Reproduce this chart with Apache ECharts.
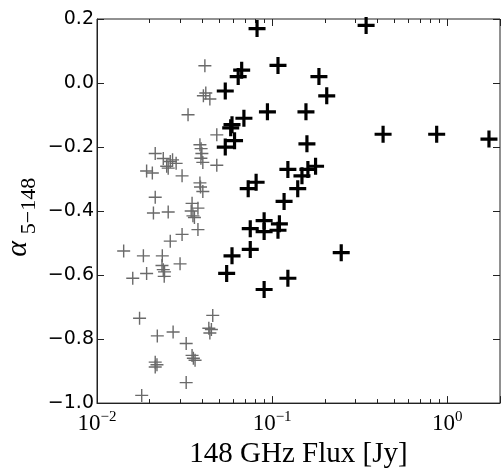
<!DOCTYPE html>
<html>
<head>
<meta charset="utf-8">
<script src="https://cdn.jsdelivr.net/npm/echarts@6/dist/echarts.min.js"></script>
<style>
html,body{margin:0;padding:0;background:#fff;}
#chart{width:503px;height:474px;}
</style>
</head>
<body>
<div id="chart"></div>
<script>
// Black (bold) sources: 148 GHz flux [Jy] and spectral index alpha_5-148
const blackFlux = [0.082, 0.344, 0.067, 0.064, 0.108, 0.185, 0.205, 0.054, 0.094, 0.156,
  0.069, 0.059, 0.058, 0.061, 0.054, 0.158, 0.123, 0.148, 0.160, 0.177,
  0.140, 0.117, 0.081, 0.073, 0.090, 0.110, 0.075, 0.090, 0.108, 0.075,
  0.059, 0.055, 0.123, 0.090, 0.248, 0.43, 0.87, 1.73];
const blackAlpha = [0.17, 0.18, 0.04, 0.02, 0.055, 0.02, -0.04, -0.025, -0.09, -0.09,
  -0.11, -0.13, -0.14, -0.18, -0.20, -0.19, -0.27, -0.29, -0.27, -0.26,
  -0.33, -0.37, -0.31, -0.33, -0.43, -0.44, -0.455, -0.464, -0.46, -0.52,
  -0.54, -0.595, -0.61, -0.645, -0.53, -0.16, -0.16, -0.175];

// Grey (faint) sources
const greyFlux = [0.0413, 0.0418, 0.0441, 0.0331, 0.0483, 0.0387, 0.0397, 0.0402, 0.0215, 0.0239,
  0.0262, 0.0283, 0.0255, 0.0207, 0.0192, 0.0306, 0.0483, 0.0387, 0.0402, 0.0215,
  0.0349, 0.0377, 0.0210, 0.0255, 0.0353, 0.0377, 0.0306, 0.0262, 0.0142, 0.0184,
  0.0236, 0.0239, 0.0298, 0.0192, 0.0242, 0.0160, 0.0175, 0.0458, 0.0435, 0.0441,
  0.0221, 0.0272, 0.0323, 0.0349, 0.0363, 0.0215, 0.0215, 0.0323, 0.0180,
  0.0405, 0.0270, 0.0250, 0.0393, 0.0392, 0.0360, 0.0345, 0.0220, 0.0355, 0.0450,
  0.0243, 0.0235, 0.0390];
const greyAlpha = [0.054, -0.031, -0.05, -0.099, -0.162, -0.193, -0.22, -0.248, -0.22, -0.236,
  -0.245, -0.251, -0.266, -0.281, -0.275, -0.29, -0.257, -0.312, -0.339, -0.357,
  -0.376, -0.391, -0.406, -0.403, -0.415, -0.458, -0.473, -0.494, -0.525, -0.54,
  -0.54, -0.583, -0.565, -0.595, -0.604, -0.61, -0.735, -0.726, -0.766, -0.781,
  -0.79, -0.778, -0.814, -0.851, -0.866, -0.872, -0.887, -0.936, -0.976,
  -0.04, -0.24, -0.26, -0.205, -0.235, -0.42, -0.40, -0.88, -0.86, -0.77,
  -0.59, -0.57, -0.325];

const yTicks = [-1.0, -0.8, -0.6, -0.4, -0.2, 0.0, 0.2];
const xDecades = [0.01, 0.1, 1];

const blackData = blackFlux.map((f, i) => [f, blackAlpha[i]]);
const greyData = greyFlux.map((f, i) => [f, greyAlpha[i]]);

const plusBold = 'path://M6.5,0 H9.5 V6.5 H16 V9.5 H9.5 V16 H6.5 V9.5 H0 V6.5 H6.5 Z';
const plusThin = 'path://M5.8,0 H7.2 V5.8 H13 V7.2 H7.2 V13 H5.8 V7.2 H0 V5.8 H5.8 Z';

function fmtY(v) {
  const s = Math.abs(v).toFixed(1);
  return (v < -1e-9 ? '\u2212' : '') + s;
}
function fmtX(v) {
  for (const d of xDecades) {
    if (Math.abs(v - d) / d < 1e-6) {
      const e = Math.round(Math.log10(d));
      return '{b|10}{s|' + (e < 0 ? '\u2212' + (-e) : e) + '}';
    }
  }
  return '';
}

const chart = echarts.init(document.getElementById('chart'), null, {renderer: 'canvas'});
const tickStyle = {color: '#222', width: 1};
chart.setOption({
  animation: false,
  backgroundColor: '#fff',
  grid: {left: 97, right: 0, top: 19, bottom: 61, show: true, borderColor: '#222', borderWidth: 1},
  xAxis: [{
    type: 'log', logBase: 10, min: 0.01, max: 2,
    position: 'bottom',
    axisLine: {show: true, onZero: false, lineStyle: {color: '#222', width: 1}},
    axisTick: {show: true, inside: true, length: 7, lineStyle: tickStyle},
    minorTick: {show: true, splitNumber: 9, length: 4, lineStyle: tickStyle},
    splitLine: {show: false},
    axisLabel: {
      margin: 6, formatter: fmtX, color: '#000',
      rich: {
        b: {fontFamily: 'Liberation Serif', fontSize: 23, color: '#000', lineHeight: 26, verticalAlign: 'bottom'},
        s: {fontFamily: 'Liberation Serif', fontSize: 15, color: '#000', lineHeight: 26, verticalAlign: 'top'}
      }
    },
    name: '148 GHz Flux [Jy]',
    nameLocation: 'middle', nameGap: 30,
    nameTextStyle: {fontFamily: 'Liberation Serif', fontSize: 29, color: '#000'}
  }, {
    type: 'log', logBase: 10, min: 0.01, max: 2,
    position: 'top',
    axisLine: {show: false, onZero: false},
    axisTick: {show: true, inside: true, length: 7, lineStyle: tickStyle},
    minorTick: {show: true, splitNumber: 9, length: 4, lineStyle: tickStyle},
    splitLine: {show: false},
    axisLabel: {show: false}
  }],
  yAxis: [{
    type: 'value', min: -1.0, max: 0.2, interval: 0.2,
    position: 'left',
    axisLine: {show: true, onZero: false, lineStyle: {color: '#222', width: 1}},
    axisTick: {show: true, inside: true, length: 7, lineStyle: tickStyle},
    splitLine: {show: false},
    axisLabel: {margin: 3, formatter: fmtY, fontFamily: 'DejaVu Sans', fontSize: 19, color: '#000'}
  }, {
    type: 'value', min: -1.0, max: 0.2, interval: 0.2,
    position: 'right',
    axisLine: {show: false, onZero: false},
    axisTick: {show: true, inside: true, length: 7, lineStyle: tickStyle},
    splitLine: {show: false},
    axisLabel: {show: false}
  }],
  graphic: [
    {type: 'text', x: 18, y: 249, rotation: Math.PI / 2,
     style: {text: '\u03b1', fontFamily: 'Liberation Serif', fontStyle: 'italic', fontSize: 30, fill: '#000', align: 'center', verticalAlign: 'middle'}},
    {type: 'text', x: 29, y: 206, rotation: Math.PI / 2,
     style: {text: '5\u2212148', fontFamily: 'Liberation Serif', fontSize: 22, fill: '#000', align: 'center', verticalAlign: 'middle'}}
  ],
  series: [{
    type: 'scatter', xAxisIndex: 0, yAxisIndex: 0,
    data: greyData, symbol: plusThin, symbolSize: 13,
    itemStyle: {color: '#6a6a6a', opacity: 1}, z: 2
  }, {
    type: 'scatter', xAxisIndex: 0, yAxisIndex: 0,
    data: blackData, symbol: plusBold, symbolSize: 17,
    itemStyle: {color: '#000', opacity: 1}, z: 3
  }]
});
</script>
</body>
</html>
